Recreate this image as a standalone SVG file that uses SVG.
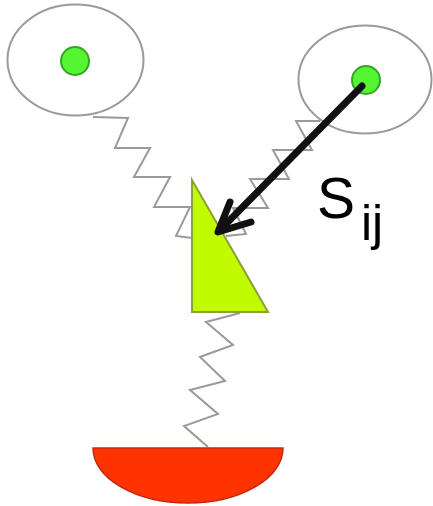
<svg xmlns="http://www.w3.org/2000/svg" width="433" height="506" viewBox="0 0 433 506">
<style>
.ring{fill:none;stroke:#9a9a9a;stroke-width:2}
.dot{fill:#55f533;stroke:#34a524;stroke-width:2}
.spring{fill:none;stroke:#9a9a9a;stroke-width:2;stroke-linejoin:miter}
.arrow{fill:none;stroke:#111;stroke-width:7;stroke-linecap:round;stroke-linejoin:round}
text{font-family:"Liberation Sans",Arial,sans-serif;fill:#000}
</style>
<rect width="433" height="506" fill="#fff"/>
<g id="connectors">
<polyline class="spring" points="93,117 128,118 115,148 150,148 134,177 170,177 154,207 190,207 176,236 192,238"/>
<polyline class="spring" points="320,121 296,121 312,150 273,150 289,179 250,179 268,208 233,208 246,234 226,236"/>
<polyline class="spring" points="240,313 206,322 233,345 200,357 225,381 190,390 218,414 184,426 208,447"/>
</g>
<g id="node-left">
<ellipse class="ring" cx="75.5" cy="60" rx="68" ry="55.5"/>
<circle class="dot" cx="75" cy="61" r="14"/>
</g>
<g id="node-right">
<ellipse class="ring" cx="365" cy="79.5" rx="66.5" ry="54"/>
<circle class="dot" cx="366" cy="80" r="14"/>
</g>
<g id="node-triangle">
<polygon points="192,180 192,312 268,312" fill="#c2fa00" stroke="#8aa038" stroke-width="2"/>
</g>
<g id="node-bowl">
<path d="M93,448 A95,55 0 0 0 283,448 Z" fill="#ff3300" stroke="#c02a10" stroke-width="1.5"/>
</g>
<g id="arrow">
<path class="arrow" d="M362,86 L220,230"/>
<path class="arrow" d="M230,202 L218,232 L251,222"/>
</g>
<g id="label">
<text x="317" y="218" font-size="57">S</text>
<text x="361" y="240" font-size="50">ij</text>
</g>
</svg>
